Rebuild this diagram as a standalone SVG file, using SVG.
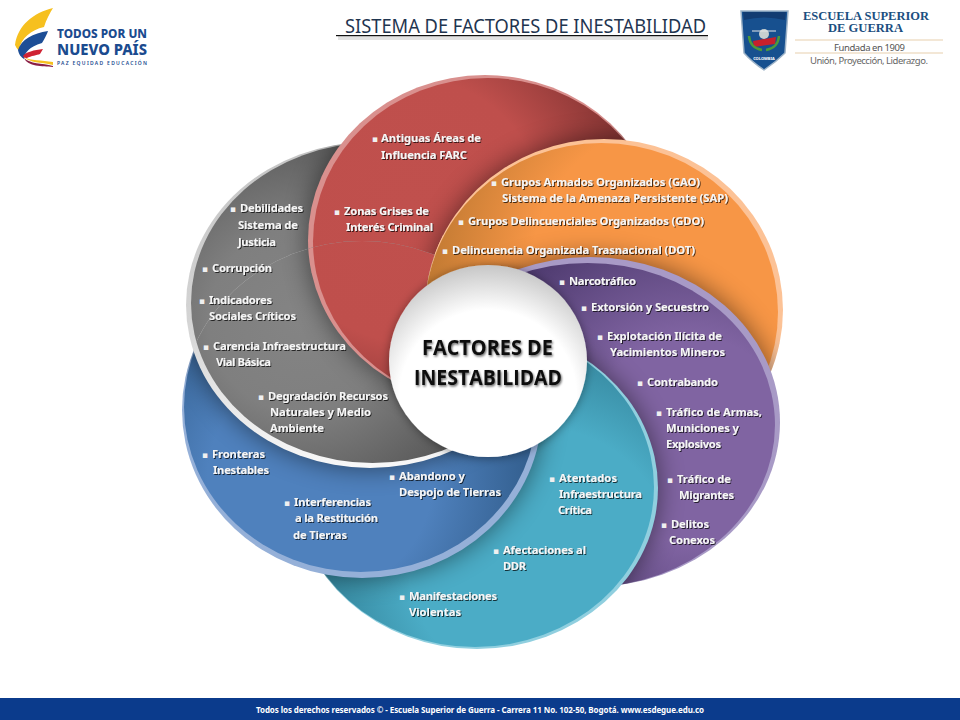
<svg xmlns="http://www.w3.org/2000/svg" width="960" height="720" viewBox="0 0 960 720">
<style>
text{font-family:"Noto Sans","Open Sans","DejaVu Sans",sans-serif}
.l{font-size:11.2px;font-weight:700;fill:#f6f6f6;filter:url(#ts)}
.b{font-size:9px;font-weight:700;fill:#f0f0f0;font-family:"DejaVu Sans",sans-serif}
.c{font-family:"Open Sans","Noto Sans",sans-serif;font-size:22px;font-weight:700;fill:#111}
.sh{fill:#000;opacity:.5;filter:url(#blur)}
</style>
<defs>
<filter id="ts" x="-10%" y="-30%" width="120%" height="170%"><feDropShadow dx="1" dy="1" stdDeviation="0.7" flood-color="#000" flood-opacity=".7"/></filter>
<filter id="cs" x="-10%" y="-30%" width="120%" height="170%"><feDropShadow dx="1" dy="1.5" stdDeviation="1.3" flood-color="#000" flood-opacity=".6"/></filter>
<filter id="ps" x="-15%" y="-15%" width="130%" height="130%"><feDropShadow dx="0" dy="1" stdDeviation="5" flood-color="#000" flood-opacity=".4"/></filter>
<filter id="blur" x="-20%" y="-20%" width="140%" height="140%"><feGaussianBlur stdDeviation="13"/></filter>
<radialGradient id="gr" gradientUnits="userSpaceOnUse" cx="410" cy="210" r="240"><stop offset="0" stop-color="#c0504d"/><stop offset=".55" stop-color="#bf4f4c"/><stop offset="1" stop-color="#7d3130"/></radialGradient>
<radialGradient id="go" gradientUnits="userSpaceOnUse" cx="680" cy="270" r="270"><stop offset="0" stop-color="#f79646"/><stop offset=".55" stop-color="#f79646"/><stop offset="1" stop-color="#b8752f"/></radialGradient>
<radialGradient id="gp" gradientUnits="userSpaceOnUse" cx="690" cy="440" r="230"><stop offset="0" stop-color="#8064a2"/><stop offset=".45" stop-color="#8064a2"/><stop offset="1" stop-color="#4f3b70"/></radialGradient>
<radialGradient id="gt" gradientUnits="userSpaceOnUse" cx="540" cy="560" r="240"><stop offset="0" stop-color="#4bacc6"/><stop offset=".55" stop-color="#4bacc6"/><stop offset="1" stop-color="#2f7c92"/></radialGradient>
<radialGradient id="gb" gradientUnits="userSpaceOnUse" cx="320" cy="480" r="225"><stop offset="0" stop-color="#4f81bd"/><stop offset=".5" stop-color="#4f81bd"/><stop offset="1" stop-color="#2f5a88"/></radialGradient>
<radialGradient id="gg" gradientUnits="userSpaceOnUse" cx="300" cy="320" r="230"><stop offset="0" stop-color="#848484"/><stop offset=".4" stop-color="#7f7f7f"/><stop offset="1" stop-color="#4c4c4c"/></radialGradient>
<radialGradient id="gw" cx=".5" cy=".68" r=".72"><stop offset="0" stop-color="#fff"/><stop offset=".62" stop-color="#fff"/><stop offset="1" stop-color="#bdbdbd"/></radialGradient>
<linearGradient id="rg" x1="0" y1="0" x2="0" y2="1"><stop offset="0" stop-color="#c4c4c4"/><stop offset=".55" stop-color="#d4d4d4"/><stop offset="1" stop-color="#f8f8f8"/></linearGradient>

<g id="eR"><ellipse cx="485" cy="240" rx="177" ry="165" fill="#d9908e"/><ellipse cx="487.5" cy="241.5" rx="174.5" ry="163.5" fill="url(#gr)"/></g>
<g id="eO"><ellipse cx="604" cy="310" rx="179" ry="171" fill="#fcc296"/><ellipse cx="601.5" cy="312" rx="176.5" ry="169" fill="url(#go)"/></g>
<g id="eP"><ellipse cx="590" cy="422" rx="190" ry="165" fill="#a89ac6"/><ellipse cx="587.5" cy="425" rx="187.5" ry="162" fill="url(#gp)"/></g>
<g id="eT"><ellipse cx="477" cy="488" rx="181" ry="161" fill="#90cfdf"/><ellipse cx="475" cy="487" rx="179" ry="160" fill="url(#gt)"/></g>
<g id="eB"><ellipse cx="362" cy="410" rx="180" ry="168" fill="#95b0d8"/><ellipse cx="360.5" cy="407" rx="176.5" ry="165" fill="url(#gb)"/></g>
<g id="eG"><ellipse cx="370" cy="305" rx="184" ry="163" fill="url(#rg)"/><ellipse cx="372.5" cy="303" rx="181.5" ry="160" fill="url(#gg)"/></g>

<clipPath id="cR"><ellipse cx="485" cy="240" rx="177" ry="165"/></clipPath>
<clipPath id="cO"><ellipse cx="604" cy="310" rx="179" ry="171"/></clipPath>
<clipPath id="cP"><ellipse cx="590" cy="422" rx="190" ry="165"/></clipPath>
<clipPath id="cT"><ellipse cx="477" cy="488" rx="181" ry="161"/></clipPath>
<clipPath id="cG"><ellipse cx="370" cy="305" rx="184" ry="163"/></clipPath>
<clipPath id="cB"><ellipse cx="362" cy="410" rx="181" ry="169"/></clipPath>
<clipPath id="cB0"><ellipse cx="362" cy="410" rx="180" ry="168"/></clipPath>
<clipPath id="cOH"><path clip-rule="evenodd" d="M0 0H960V720H0Z M425 310a179 171 0 1 0 358 0a179 171 0 1 0-358 0Z"/></clipPath>
<clipPath id="cS"><rect x="420" y="235" width="60" height="70"/></clipPath>
</defs>
<rect width="960" height="720" fill="#fff"/>

<g id="petals">
<use href="#eG"/>
<g clip-path="url(#cG)"><ellipse class="sh" cx="485" cy="240" rx="177" ry="165"/></g>
<use href="#eR"/>
<g clip-path="url(#cR)"><ellipse class="sh" cx="604" cy="310" rx="179" ry="171"/></g>
<use href="#eO"/>
<g clip-path="url(#cO)"><ellipse class="sh" cx="590" cy="422" rx="190" ry="165"/></g>
<use href="#eP"/>
<g clip-path="url(#cP)"><ellipse class="sh" cx="477" cy="488" rx="181" ry="161"/></g>
<use href="#eT"/>
<g clip-path="url(#cT)"><ellipse class="sh" cx="362" cy="410" rx="180" ry="168"/></g>
<use href="#eB"/>
<g clip-path="url(#cB0)"><ellipse class="sh" cx="370" cy="305" rx="184" ry="163"/></g>
<g clip-path="url(#cB)">
<use href="#eG"/>
<g clip-path="url(#cG)"><ellipse class="sh" cx="485" cy="240" rx="177" ry="165"/></g>
<g clip-path="url(#cOH)"><use href="#eR"/></g>
</g>
<g clip-path="url(#cS)"><use href="#eO"/></g>
</g>

<g id="logo-todos">
<path d="M53 8C33 13 18 25 15 45C17 49 18 50 19 50C21 38 31 30 44 27C46 20 50 13 53 8Z" fill="#f6c01f"/>
<path d="M48 31C33 33 21 40 18 50C19 55 21 57 24 59C25 52 29 47 42 43C45 38 47 34 48 31Z" fill="#1d4e96"/>
<path d="M43 49C34 50 26 52 23 56C24 58 25 58 27 58C31 56 37 55 40 54Z" fill="#cf2333"/>
<path d="M24 57C30 61 42 60 53 62V65C40 62 30 63 24 57Z" fill="#f6c01f"/>
<path d="M24 58C30 64 42 63 53 66V67C42 66 28 67 24 58Z" fill="#8a1f45"/>
<text x="57" y="37.5" font-size="12.5" font-weight="800" fill="#1b4b8f" textLength="90" lengthAdjust="spacingAndGlyphs">TODOS POR UN</text>
<text x="57" y="55" font-size="15" font-weight="800" fill="#1b4b8f" textLength="90" lengthAdjust="spacingAndGlyphs">NUEVO PAÍS</text>
<text x="57" y="64.5" font-size="5" font-weight="600" fill="#1b4b8f" textLength="90">PAZ  EQUIDAD  EDUCACIÓN</text>
</g>

<g id="title">
<rect x="338" y="36" width="370" height="4" fill="#e2e2e2"/>
<rect x="336" y="35" width="372" height="1.2" fill="#111"/>
<text x="345" y="33" font-size="19" fill="#1f3550" textLength="361" lengthAdjust="spacingAndGlyphs">SISTEMA DE FACTORES DE INESTABILIDAD</text>
</g>

<g id="logo-esdegue">
<path d="M741 11H788L785 53Q776 62 764 70Q752 62 744 53Z" fill="#17508f" stroke="#9fb4c8" stroke-width="1.5"/>
<path d="M743 12H786L785 20Q764 15 744 20Z" fill="#123c72"/>
<circle cx="764" cy="34" r="5" fill="#c7cfd0"/>
<path d="M753 41L776 37L775 44L754 47Z" fill="#c8202c"/>
<path d="M749 36Q750 48 762 50M779 36Q778 48 766 50" fill="none" stroke="#4d9a3a" stroke-width="2.5"/>
<path d="M752 31H776" stroke="#e6e6e6" stroke-width="1"/>
<text x="764" y="60" font-size="4" font-weight="700" fill="#fff" text-anchor="middle">COLOMBIA</text>
<text x="803" y="19.5" style="font-family:'Liberation Serif',serif" font-size="12" font-weight="700" fill="#1b4f80" textLength="126" lengthAdjust="spacingAndGlyphs">ESCUELA SUPERIOR</text>
<text x="828" y="32" style="font-family:'Liberation Serif',serif" font-size="12" font-weight="700" fill="#1b4f80" textLength="75" lengthAdjust="spacingAndGlyphs">DE GUERRA</text>
<path d="M795 40H943M795 53H943" stroke="#e8cfae" stroke-width="1.2"/>
<text x="834" y="51" font-size="9.5" fill="#555" textLength="71">Fundada en 1909</text>
<text x="810" y="64" font-size="9.5" fill="#666" textLength="118">Unión, Proyección, Liderazgo.</text>
</g>

<g id="factor-red">
<text class="b" x="372" y="142">▪</text><text class="l" x="381" y="142" textLength="100">Antiguas Áreas de</text>
<text class="l" x="381" y="159" textLength="86">Influencia FARC</text>
<text class="b" x="334" y="215">▪</text><text class="l" x="344" y="215" textLength="85">Zonas Grises de</text>
<text class="l" x="346" y="231" textLength="87">Interés Criminal</text>
</g>
<g id="factor-orange">
<text class="b" x="491" y="186">▪</text><text class="l" x="501" y="186" textLength="199">Grupos Armados Organizados (GAO)</text>
<text class="l" x="502" y="202" textLength="226">Sistema de la Amenaza Persistente (SAP)</text>
<text class="b" x="458" y="225">▪</text><text class="l" x="468" y="225" textLength="236">Grupos Delincuenciales Organizados (GDO)</text>
<text class="b" x="442" y="254">▪</text><text class="l" x="452" y="254" textLength="243">Delincuencia Organizada Trasnacional (DOT)</text>
</g>
<g id="factor-purple">
<text class="b" x="559" y="285">▪</text><text class="l" x="569" y="285" textLength="67">Narcotráfico</text>
<text class="b" x="581" y="311">▪</text><text class="l" x="591" y="311" textLength="118">Extorsión y Secuestro</text>
<text class="b" x="597" y="340">▪</text><text class="l" x="607" y="340" textLength="115">Explotación Ilícita de</text>
<text class="l" x="610" y="356" textLength="115">Yacimientos Mineros</text>
<text class="b" x="637" y="386">▪</text><text class="l" x="647" y="386" textLength="71">Contrabando</text>
<text class="b" x="656" y="416">▪</text><text class="l" x="666" y="416" textLength="96">Tráfico de Armas,</text>
<text class="l" x="666" y="432" textLength="73">Municiones y</text>
<text class="l" x="666" y="448" textLength="55">Explosivos</text>
<text class="b" x="667" y="483">▪</text><text class="l" x="677" y="483" textLength="54">Tráfico de</text>
<text class="l" x="679" y="499" textLength="55">Migrantes</text>
<text class="b" x="661" y="528">▪</text><text class="l" x="671" y="528" textLength="38">Delitos</text>
<text class="l" x="669" y="544" textLength="46">Conexos</text>
</g>
<g id="factor-teal">
<text class="b" x="549" y="482">▪</text><text class="l" x="559" y="482" textLength="58">Atentados</text>
<text class="l" x="559" y="498" textLength="83">Infraestructura</text>
<text class="l" x="558" y="514" textLength="34">Crítica</text>
<text class="b" x="493" y="554">▪</text><text class="l" x="503" y="554" textLength="83">Afectaciones al</text>
<text class="l" x="503" y="570" textLength="23">DDR</text>
<text class="b" x="399" y="600">▪</text><text class="l" x="409" y="600" textLength="88">Manifestaciones</text>
<text class="l" x="409" y="616" textLength="52">Violentas</text>
</g>
<g id="factor-blue">
<text class="b" x="389" y="480">▪</text><text class="l" x="399" y="480" textLength="66">Abandono y</text>
<text class="l" x="399" y="496" textLength="102">Despojo de Tierras</text>
<text class="b" x="284" y="506">▪</text><text class="l" x="294" y="506" textLength="77">Interferencias</text>
<text class="l" x="295" y="522" textLength="83">a la Restitución</text>
<text class="l" x="293" y="539" textLength="54">de Tierras</text>
<text class="b" x="202" y="458">▪</text><text class="l" x="212" y="458" textLength="53">Fronteras</text>
<text class="l" x="213" y="474" textLength="56">Inestables</text>
</g>
<g id="factor-gray">
<text class="b" x="230" y="212">▪</text><text class="l" x="240" y="212" textLength="63">Debilidades</text>
<text class="l" x="238" y="229" textLength="60">Sistema de</text>
<text class="l" x="238" y="246" textLength="38">Justicia</text>
<text class="b" x="202" y="272">▪</text><text class="l" x="212" y="272" textLength="60">Corrupción</text>
<text class="b" x="199" y="304">▪</text><text class="l" x="209" y="304" textLength="63">Indicadores</text>
<text class="l" x="209" y="320" textLength="87">Sociales Críticos</text>
<text class="b" x="203" y="350">▪</text><text class="l" x="213" y="350" textLength="133">Carencia Infraestructura</text>
<text class="l" x="216" y="366" textLength="55">Vial Básica</text>
<text class="b" x="258" y="400">▪</text><text class="l" x="268" y="400" textLength="120">Degradación Recursos</text>
<text class="l" x="270" y="416" textLength="101">Naturales y Medio</text>
<text class="l" x="270" y="432" textLength="54">Ambiente</text>
</g>

<g id="center">
<ellipse cx="488" cy="361" rx="99" ry="96" fill="url(#gw)" filter="url(#ps)"/>
<text class="c" x="422" y="355" textLength="131" lengthAdjust="spacingAndGlyphs" filter="url(#cs)">FACTORES DE</text>
<text class="c" x="414" y="385" textLength="148" lengthAdjust="spacingAndGlyphs" filter="url(#cs)">INESTABILIDAD</text>
</g>

<g id="footer">
<rect y="698" width="960" height="22" fill="#0b3b8c"/>
<text x="256" y="713" font-size="8" font-weight="700" fill="#fff" textLength="448">Todos los derechos reservados © - Escuela Superior de Guerra - Carrera 11 No. 102-50, Bogotá. www.esdegue.edu.co</text>
</g>
</svg>
